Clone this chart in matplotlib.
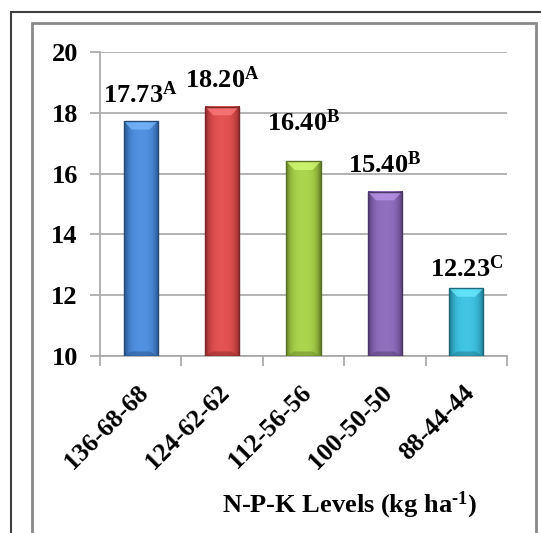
import numpy as np
import matplotlib
matplotlib.use('Agg')
import matplotlib.pyplot as plt
import matplotlib.transforms as mtransforms
from matplotlib.patches import Rectangle, Polygon
from matplotlib.colors import to_rgb

levels = ['136-68-68', '124-62-62', '112-56-56', '100-50-50', '88-44-44']
values = [17.73, 18.20, 16.40, 15.40, 12.23]
groups = ['A', 'A', 'B', 'B', 'C']
colors = ['#3d7dcc', '#cf3f3f', '#98c13a', '#7d5bab', '#2eb0cf']
# gap between bar top and label baseline (points)
label_pad = [13, 13.5, 22, 13.5, 8]

plt.rcParams['font.family'] = 'Liberation Serif'
plt.rcParams['font.weight'] = 'bold'
plt.rcParams['mathtext.fontset'] = 'custom'
plt.rcParams['mathtext.rm'] = 'Liberation Serif:bold'
plt.rcParams['mathtext.it'] = 'Liberation Serif:bold'

fig = plt.figure(figsize=(5.41, 5.33), dpi=100)
W, H = 541, 533
ax = fig.add_axes([100 / W, 177 / H, 407 / W, 304 / H])

# frames around the chart
fig.patches.append(Rectangle((11 / W, -0.1), 1.2, (H - 12) / H + 0.1, transform=fig.transFigure,
                             fill=False, edgecolor='#404040', lw=1.5))
fig.patches.append(Rectangle((32 / W, -0.1), (536 - 32) / W, (H - 23) / H + 0.1, transform=fig.transFigure,
                             fill=False, edgecolor='#8a8a8a', lw=2))

x = np.arange(len(values))
bw = 0.42
bars = ax.bar(x, [v - 10 for v in values], bottom=10, width=bw, color=colors, zorder=2)

# shading to mimic the bevelled bars
grad = np.linspace(-1, 1, 64)
shade = 1 - 0.35 * grad ** 4
for b, c in zip(bars, colors):
    rgb = np.array(to_rgb(c))
    img = np.clip(rgb[None, :] * shade[:, None] + 0.08 * (1 - grad[:, None] ** 2), 0, 1)
    x0, y0 = b.get_x(), b.get_y()
    w, h = b.get_width(), b.get_height()
    ax.imshow(img[None, :, :], extent=[x0, x0 + w, y0, y0 + h], aspect='auto', zorder=3,
              clip_path=b, clip_on=True)
    dx, dy = 0.1, 0.28
    top = y0 + h
    light = np.clip(rgb * 1.0 + 0.25, 0, 1)
    ax.add_patch(Polygon([(x0, top), (x0 + w, top), (x0 + w - dx, top - dy), (x0 + dx, top - dy)],
                         closed=True, facecolor=light, edgecolor='none', alpha=0.7, zorder=4))
    dark = rgb * 0.75
    ax.add_patch(Polygon([(x0, y0), (x0 + w, y0), (x0 + w - dx, y0 + 0.15), (x0 + dx, y0 + 0.15)],
                         closed=True, facecolor=dark, edgecolor='none', alpha=0.6, zorder=4))
    ax.add_patch(Rectangle((x0, y0), w, h, fill=False, edgecolor=rgb * 0.6, lw=1, zorder=5))

for xi, v, g, p in zip(x, values, groups, label_pad):
    ax.annotate(f'{v:.2f}$^{{\\mathrm{{{g}}}}}$', (xi, v), xytext=(0, p), textcoords='offset points',
                ha='center', va='baseline', fontsize=19, fontweight='bold')

ax.set_ylim(10, 20)
ax.set_xlim(-0.5, len(values) - 0.5)
ax.set_yticks(range(10, 21, 2))
ax.yaxis.grid(True, color='#a6a6a6', lw=1.2, zorder=0)
ax.set_axisbelow(True)
for s in ['top', 'right']:
    ax.spines[s].set_visible(False)
for s in ['left', 'bottom']:
    ax.spines[s].set_color('#a6a6a6')
    ax.spines[s].set_linewidth(1.2)
ax.tick_params(axis='y', length=7, color='#a6a6a6', width=1.2, pad=9, labelsize=19)
ax.set_xticks(x)
ax.set_xticklabels(levels, rotation=45, ha='right', va='center', rotation_mode='anchor',
                   fontsize=18.5, fontweight='bold')
ax.tick_params(axis='x', which='major', length=0, pad=24)
shift = mtransforms.ScaledTranslation(4 / 100, 0, fig.dpi_scale_trans)
for t in ax.get_xticklabels():
    t.set_transform(t.get_transform() + shift)
ax.set_xticks(np.arange(len(values) + 1) - 0.5, minor=True)
ax.tick_params(axis='x', which='minor', length=7, color='#a6a6a6', width=1.2)
for t in ax.get_yticklabels():
    t.set_fontweight('bold')

ax.set_xlabel('N-P-K Levels (kg ha$^{\\mathrm{\u2010 1}}$)', fontsize=19, fontweight='bold')
ax.xaxis.set_label_coords(0.614, -0.49)
ax.xaxis.label.set_va('center')

fig.savefig('out.png', dpi=100)
